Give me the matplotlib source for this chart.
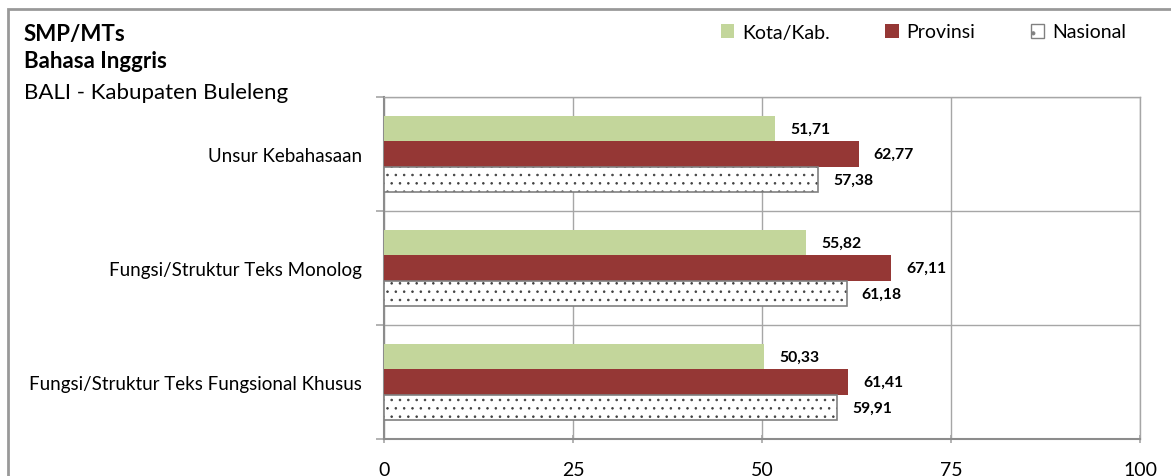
import matplotlib.pyplot as plt
import matplotlib.patches as mpatches
import numpy as np

plt.rcParams['font.family'] = ['Lato', 'DejaVu Sans']
plt.rcParams['hatch.linewidth'] = 0.6

categories = ["Unsur Kebahasaan", "Fungsi/Struktur Teks Monolog",
              "Fungsi/Struktur Teks Fungsional Khusus"]
kota = [51.71, 55.82, 50.33]
provinsi = [62.77, 67.11, 61.41]
nasional = [57.38, 61.18, 59.91]
series_names = ["Kota/Kab.", "Provinsi", "Nasional"]
xticks = [0, 25, 50, 75, 100]

green = "#C3D69B"
red = "#953735"
grid_c = "#A6A6A6"

fig = plt.figure(figsize=(11.71, 4.77), dpi=100)
ax = fig.add_axes([384 / 1171, 1 - 440 / 477, 756 / 1171, 342 / 477])

y = np.arange(len(categories))
h = 0.224
ax.barh(y - h, kota, height=h, color=green, edgecolor="none", zorder=3)
ax.barh(y, provinsi, height=h, color=red, edgecolor="none", zorder=3)
ax.barh(y + h, nasional, height=h, color="white", edgecolor="#404040",
        hatch="..", linewidth=0, zorder=3)
ax.barh(y + h, nasional, height=h, color="none", edgecolor="#808080",
        linewidth=1.2, zorder=4)

def fmt(v):
    return f"{v:.2f}".replace(".", ",")

for vals, off in ((kota, -h), (provinsi, 0), (nasional, h)):
    for i, v in enumerate(vals):
        ax.text(v + 2, i + off, fmt(v), ha="left", va="center",
                fontsize=11.3, fontweight="bold", zorder=5)

ax.set_xlim(0, 100)
ax.set_ylim(2.5, -0.5)
ax.set_xticks(xticks)
ax.set_xticklabels([str(t) for t in xticks], fontsize=14)
ax.set_yticks([-0.5, 0.5, 1.5, 2.5])
ax.set_yticklabels([])
ax.set_yticks(y, minor=True)
ax.set_yticklabels(categories, minor=True, fontsize=13.5)
ax.tick_params(axis="y", which="minor", length=0, pad=16)
ax.tick_params(axis="y", which="major", length=6, color=grid_c, width=1.2)
ax.tick_params(axis="x", length=6, color=grid_c, width=1.2, pad=13,
               direction="inout")
ax.grid(True, axis="both", which="major", color=grid_c, linewidth=1.0, zorder=0)
for s in ("top", "right"):
    ax.spines[s].set_color(grid_c)
    ax.spines[s].set_linewidth(1.0)
ax.spines["left"].set_color("#8C8C8C")
ax.spines["left"].set_linewidth(1.5)
ax.spines["bottom"].set_color("#8C8C8C")
ax.spines["bottom"].set_linewidth(1.5)

# outer chart frame
frame = mpatches.Rectangle((8 / 1171, -0.1), 1.2, 1 - 10 / 477 + 0.1,
                           transform=fig.transFigure, fill=False,
                           edgecolor="#999999", linewidth=2)
fig.patches.append(frame)

fig.text(24 / 1171, 1 - 35 / 477, "SMP/MTs", fontsize=16, fontweight="bold",
         va="center", ha="left")
fig.text(24 / 1171, 1 - 62 / 477, "Bahasa Inggris", fontsize=16,
         fontweight="bold", va="center", ha="left")
fig.text(24 / 1171, 1 - 93 / 477, "BALI - Kabupaten Buleleng", fontsize=16,
         va="center", ha="left")

# legend
handles = [mpatches.Patch(facecolor=green, edgecolor="none"),
           mpatches.Patch(facecolor=red, edgecolor="none"),
           mpatches.Patch(facecolor="white", edgecolor="#808080", hatch=".")]
fig.legend(handles, series_names, loc="center left",
           bbox_to_anchor=(703 / 1171, 1 - 33 / 477), ncol=3, frameon=False,
           fontsize=14, handlelength=0.7, handleheight=0.7,
           handletextpad=0.4, columnspacing=2.85)

fig.savefig("out.png", dpi=100)
